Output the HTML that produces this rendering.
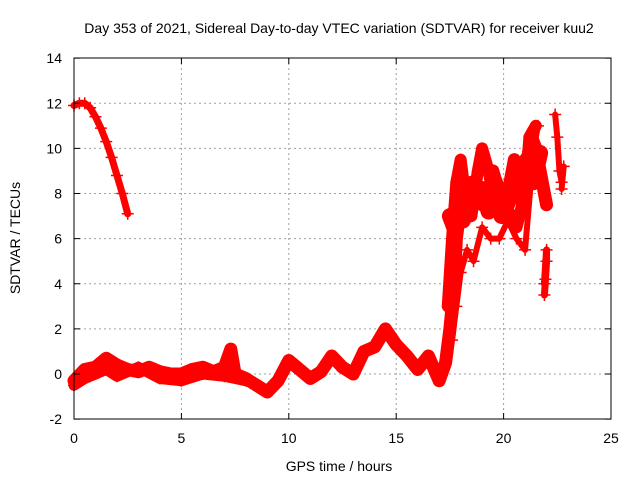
<!DOCTYPE html>
<html><head><meta charset="utf-8"><style>
body{margin:0;background:#fff}
svg{font-family:"Liberation Sans",sans-serif;font-size:14px}
</style></head><body>
<svg id="chart" width="640" height="480">
<text x="339" y="33" text-anchor="middle">Day 353 of 2021, Sidereal Day-to-day VTEC variation (SDTVAR) for receiver kuu2</text>
<text x="339" y="471" text-anchor="middle">GPS time / hours</text>
<text x="0" y="0" transform="translate(20,238) rotate(-90)" text-anchor="middle">SDTVAR / TECUs</text>
<g id="grid"></g><g id="marks"></g>
<rect x="74" y="58" width="537" height="361" fill="none" stroke="#000"/>
<g id="ticks"></g>
</svg>
<script>
const xTicks=[0,5,10,15,20,25];
const yTicks=[-2,0,2,4,6,8,10,12,14];
const tA=[0,0.25,0.5,0.75,1.0,1.25,1.5,1.75,2.0,2.25,2.5];
const vA=[11.9,12.0,12.0,11.8,11.4,10.9,10.3,9.6,8.8,8.0,7.1];
const tB=[0,0.5,1,1.5,2,2.5,3,3.5,4,4.5,5,5.5,6,6.5,7,7.3,7.5,8,8.5,9,9.5,10,10.5,11,11.5,12,12.5,13,13.5,14,14.5,15,15.5,16,16.5,17,17.3,17.5,17.7,17.8,18,18.3,18.5,19,19.3,19.5,19.8,20,20.3,20.5,20.8,21,21.3,21.5,21.7,22];
const vB=[-0.3,0.2,0.3,0.7,0.4,0.2,0.1,0.3,0.1,0,0,0.2,0.3,0.1,0.3,1.1,0,-0.2,-0.5,-0.8,-0.3,0.6,0.2,-0.2,0.1,0.8,0.3,0,1.0,1.2,2.0,1.3,0.8,0.2,0.8,-0.3,0.5,2,4,6,7.5,7.0,8.5,7.5,8,9,8,7.5,8.5,9.5,8.5,9,10.5,10,9,7.5];
const tC=[0,0.5,1,1.5,2,3,4,5,6,7,8];
const vC=[-0.5,-0.2,0,0.2,-0.1,0.3,-0.2,-0.3,0,-0.1,-0.3];
const tD=[17.4,17.6,17.8,18.0,18.2,18.5,18.8,19.0,19.3,19.6,20.0,20.3,20.6,21.0,21.2,21.5];
const vD=[3,6,8.5,9.5,8,7,9,10,9,7.5,8,7,6.5,8,10.5,11];
const tG=[17.5,17.7,17.9,18.1,18.4,18.7,19.0,19.3,19.6,19.9,20.2,20.5,20.8,21.1,21.4,21.7];
const vG=[7,6.5,7.5,6.8,7.5,7.8,8.2,7.2,8.5,7.0,7.6,8.8,7.8,9.5,8.5,9.8];
const tH=[17.6,17.8,18.0,18.3,18.6,19.0,19.4,19.8,20.2,20.6,21.0,21.4,21.6];
const vH=[1.5,3,4.5,5.5,5,6.5,6,6,6.8,6,5.5,10,11];
const tE=[21.9,21.95,22.0,22.0,21.9];
const vE=[3.5,4.2,5.0,5.5,4.0];
const tF=[22.4,22.5,22.6,22.7,22.8,22.7];
const vF=[11.5,10.5,9.0,8.5,9.2,8.2];
const X=t=>74+t*537/25, Y=v=>374-v*361/16;
const ns="http://www.w3.org/2000/svg";
function mk(tag,attrs,parent){const e=document.createElementNS(ns,tag);for(const k in attrs)e.setAttribute(k,attrs[k]);document.getElementById(parent).appendChild(e);return e;}
xTicks.forEach(t=>{
 if(t>0&&t<25){const g=mk('line',{x1:X(t),x2:X(t),y1:58,y2:419,stroke:'#a0a0a0','stroke-dasharray':'2,3'},'grid');
 
 }
 mk('line',{x1:X(t),x2:X(t),y1:419,y2:413,stroke:'#000'},'ticks');
 mk('line',{x1:X(t),x2:X(t),y1:58,y2:64,stroke:'#000'},'ticks');
 const l=mk('text',{x:X(t),y:443,'text-anchor':'middle'},'ticks');l.textContent=t;
 
 
});
yTicks.forEach(v=>{
 if(v>-2&&v<14){const g=mk('line',{x1:74,x2:611,y1:Y(v),y2:Y(v),stroke:'#a0a0a0','stroke-dasharray':'2,3'},'grid');
 
 }
 mk('line',{x1:74,x2:80,y1:Y(v),y2:Y(v),stroke:'#000'},'ticks');
 mk('line',{x1:611,x2:605,y1:Y(v),y2:Y(v),stroke:'#000'},'ticks');
 const l=mk('text',{x:62,y:Y(v)+5,'text-anchor':'end'},'ticks');l.textContent=v;
 
 
});
function series(ts,vs,w,name){
 const p=mk('polyline',{points:ts.map((t,i)=>X(t)+','+Y(vs[i])).join(' '),fill:'none',stroke:'#f00','stroke-width':w,'stroke-linejoin':'round','stroke-linecap':'round'},'marks');
 
 
 ts.forEach((t,i)=>{const x=X(t),y=Y(vs[i]);
  const m=mk('path',{d:`M${x-6},${y}h12M${x},${y-6}v12`,stroke:'#f00','stroke-width':1.5},'marks');
  
  });
}
series(tA,vA,7,'series-early-high');
series(tB,vB,13,'series-main');
series(tC,vC,11,'series-lower-band');
series(tD,vD,12,'series-upper-band');
series(tG,vG,16,'series-upper-cloud');
series(tH,vH,6,'series-upper-scatter');
series(tE,vE,7,'series-cluster-22h');
series(tF,vF,6,'series-cluster-22h5');
</script>
</body></html>
